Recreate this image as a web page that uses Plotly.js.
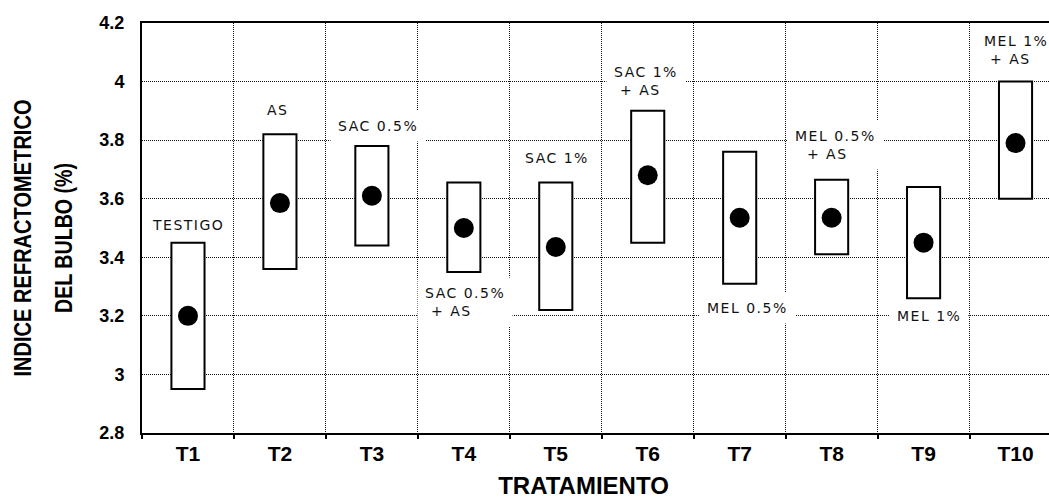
<!DOCTYPE html>
<html>
<head>
<meta charset="utf-8">
<script src="https://cdn.plot.ly/plotly-3.0.1.min.js"></script>
<style>
  html, body { margin: 0; padding: 0; background: #fff; }
  #chart { width: 1049px; height: 500px; }
  text.annotation-text { letter-spacing: 1.5px; }
</style>
</head>
<body>
<div id="chart"></div>
<script>
// ---- data ----
const categories = ['T1', 'T2', 'T3', 'T4', 'T5', 'T6', 'T7', 'T8', 'T9', 'T10'];
const treatmentLabels = ['TESTIGO', 'AS', 'SAC 0.5%', 'SAC 0.5%<br>\u00a0+ AS', 'SAC 1%',
  'SAC 1%<br>\u00a0+ AS', 'MEL 0.5%', 'MEL 0.5%<br>\u00a0\u00a0+ AS', 'MEL 1%', 'MEL 1%<br>\u00a0+ AS'];
const lowValues  = [2.95, 3.36, 3.44, 3.35, 3.22, 3.45, 3.31, 3.41, 3.26, 3.60];
const highValues = [3.45, 3.82, 3.78, 3.655, 3.655, 3.90, 3.76, 3.665, 3.64, 4.00];
const meanValues = [3.20, 3.585, 3.61, 3.50, 3.435, 3.68, 3.535, 3.535, 3.45, 3.79];
const yTickVals  = [2.8, 3.0, 3.2, 3.4, 3.6, 3.8, 4.0, 4.2];
const yTickText  = ['2.8', '3', '3.2', '3.4', '3.6', '3.8', '4', '4.2'];
const yTitleLines = ['INDICE REFRACTOMETRICO', 'DEL BULBO (%)'];
const xTitle = 'TRATAMIENTO';

// ---- label placement (layout only) ----
const labelSide = ['top', 'top', 'top', 'bottom', 'top', 'top', 'bottom', 'top', 'bottom', 'top'];
const labelDx   = [0, -2, 6, 1, 1, -2, 8, 4, 5, 0];
const labelGap  = [2, 8, 4, 5, 9, 5, 8, 10, 2, 7];

const idx = categories.map((_, i) => i);

const boxTrace = {
  type: 'bar',
  x: idx,
  base: lowValues,
  y: highValues.map((h, i) => h - lowValues[i]),
  width: 0.36,
  marker: { color: '#ffffff', line: { color: '#000000', width: 2 } },
  hoverinfo: 'skip'
};

const meanTrace = {
  type: 'scatter',
  mode: 'markers',
  x: idx,
  y: meanValues,
  marker: { symbol: 'circle', size: 20, color: '#000000' },
  hoverinfo: 'skip'
};

const labelFont = { family: 'DejaVu Sans, Liberation Sans, sans-serif', size: 14, color: '#111111' };

const annotations = idx.map(i => {
  const top = labelSide[i] === 'top';
  return {
    x: i, xref: 'x',
    y: top ? highValues[i] : lowValues[i], yref: 'y',
    yanchor: top ? 'bottom' : 'top',
    xanchor: 'center',
    xshift: labelDx[i],
    yshift: top ? labelGap[i] : -labelGap[i],
    text: treatmentLabels[i],
    align: 'left',
    showarrow: false,
    bgcolor: '#ffffff',
    borderpad: 7,
    font: labelFont
  };
});

const gridDash = '1px,1px';

const layout = {
  width: 1049,
  height: 500,
  margin: { l: 142, r: 0, t: 23, b: 67, pad: 0 },
  paper_bgcolor: '#ffffff',
  plot_bgcolor: '#ffffff',
  showlegend: false,
  bargap: 0,
  xaxis: {
    range: [-0.5, 9.364],
    tickmode: 'array',
    tickvals: idx,
    ticktext: categories,
    ticks: '',
    showgrid: false,
    zeroline: false,
    showline: true,
    linecolor: '#000000',
    linewidth: 2,
    mirror: true,
    ticklabelstandoff: 1,
    tickfont: { family: 'Liberation Sans, Arial, sans-serif', size: 21, color: '#000000', weight: 'bold' },
    minor: {
      tickmode: 'linear', tick0: 0.5, dtick: 1,
      showgrid: true, griddash: gridDash, gridcolor: '#111111', gridwidth: 1,
      ticks: 'outside', ticklen: 4, tickwidth: 2, tickcolor: '#000000'
    },
    title: {
      text: xTitle,
      font: { family: 'Liberation Sans, Arial, sans-serif', size: 24, color: '#000000', weight: 'bold' },
      standoff: 10
    },
    fixedrange: true
  },
  yaxis: {
    range: [2.8, 4.2],
    tickmode: 'array',
    tickvals: yTickVals,
    ticktext: yTickText,
    ticks: '',
    showgrid: true,
    griddash: gridDash,
    gridcolor: '#111111',
    gridwidth: 1,
    zeroline: false,
    showline: true,
    linecolor: '#000000',
    linewidth: 2,
    mirror: false,
    ticklabelstandoff: 12,
    tickfont: { family: 'Liberation Sans, Arial, sans-serif', size: 18, color: '#000000', weight: 'bold' },
    title: {
      text: yTitleLines.map(t => "<span style='font-size:24px'>" + t + "</span>").join('<br>'),
      font: { family: 'Liberation Sans, Arial, sans-serif', size: 31, color: '#000000', weight: 'bold' },
      standoff: 18
    },
    fixedrange: true
  },
  annotations: annotations
};

const yTitleLengths = [277, 150];

Plotly.newPlot('chart', [boxTrace, meanTrace], layout, { displayModeBar: false, staticPlot: true }).then(gd => {
  // condense the y-axis title lines to mimic the narrow face of the original
  const lines = gd.querySelectorAll('.g-ytitle text tspan.line');
  lines.forEach((ln, k) => {
    const inner = ln.querySelector('tspan') || ln;
    if (yTitleLengths[k]) {
      inner.setAttribute('textLength', yTitleLengths[k]);
      inner.setAttribute('lengthAdjust', 'spacingAndGlyphs');
    }
  });
  const yt = gd.querySelector('.g-ytitle');
  if (yt) yt.setAttribute('transform', 'translate(0,10)');
  const xt = gd.querySelector('.g-xtitle');
  if (xt) xt.setAttribute('transform', 'translate(-12,3)');
});
</script>
</body>
</html>
